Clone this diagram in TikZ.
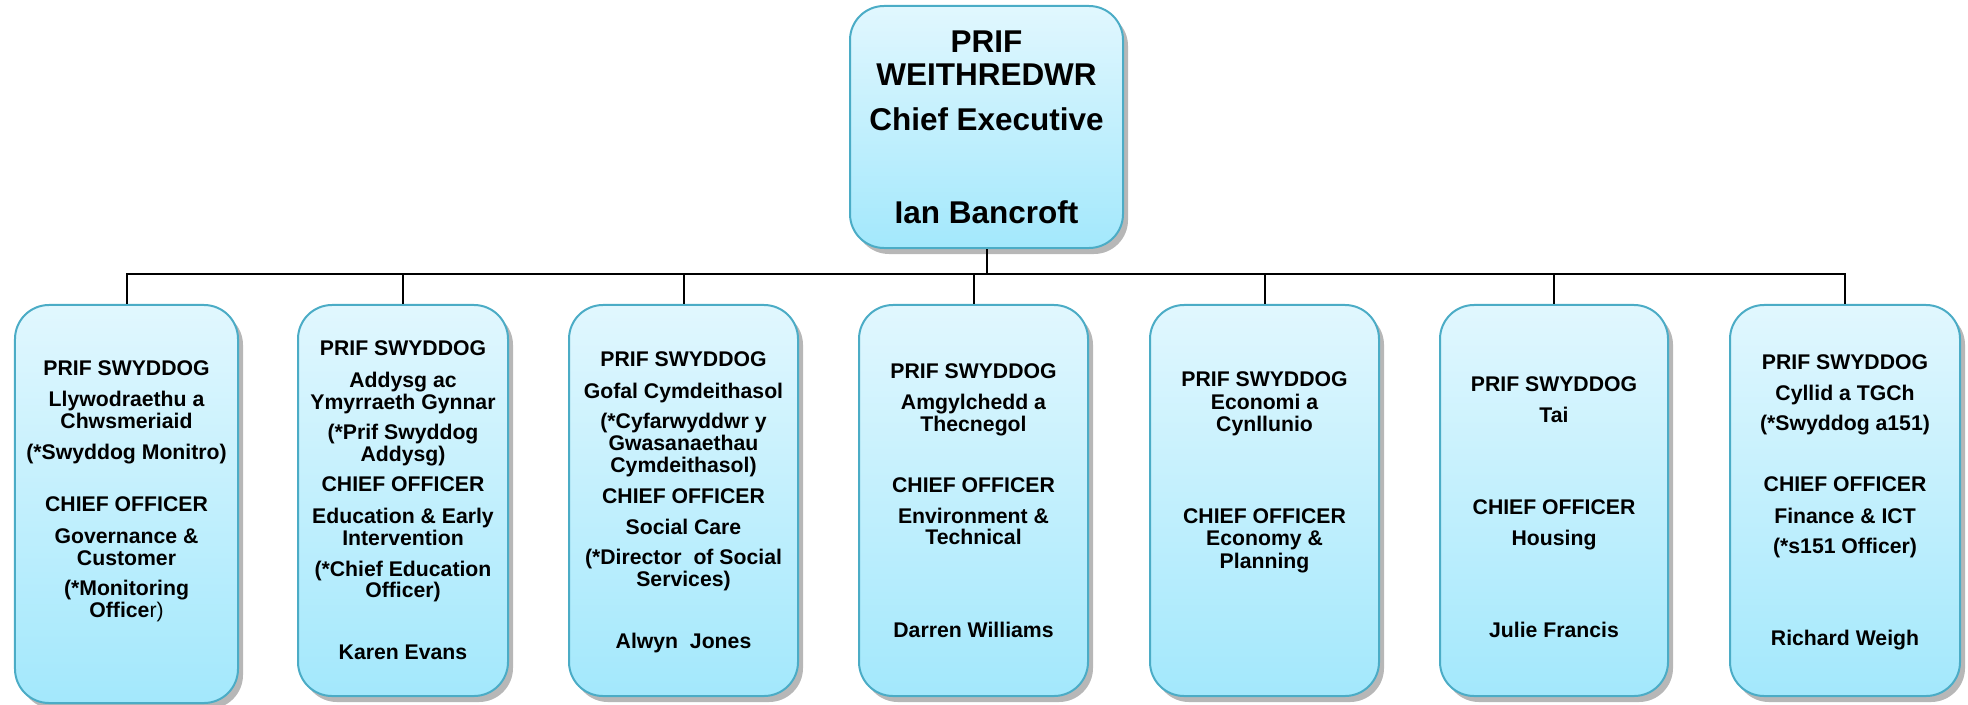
\documentclass[tikz,border=0pt]{standalone}
\usepackage{fontspec}
\setmainfont{Liberation Sans}
\usetikzlibrary{shadows}
\definecolor{boxline}{RGB}{75,172,198}
\definecolor{boxtop}{RGB}{225,247,254}
\definecolor{boxbot}{RGB}{163,232,252}
\begin{document}
\begin{tikzpicture}[x=0.5bp,y=-0.5bp,
    dept/.style={rectangle, rounded corners=17bp, draw=boxline, line width=1bp,
      top color=boxtop, bottom color=boxbot, inner sep=0pt,
      drop shadow={shadow xshift=2.5bp, shadow yshift=-3bp, opacity=0.4, fill=black!70}},
    txt/.style={anchor=base, inner sep=0pt, font=\fontsize{10.65}{11}\selectfont\bfseries},
    big/.style={anchor=base, inner sep=0pt, font=\fontsize{15.8}{17}\selectfont\bfseries},
    link/.style={draw=black, line width=1bp}]
    \useasboundingbox (0,0) rectangle (1968,704);
    %%Chief_executive
    \node[dept, minimum width=136.5bp, minimum height=121bp] (ceo) at (986.5,127) {};
    \foreach \y/\t [count=\k] in {42/PRIF, 75/WEITHREDWR, 120/Chief Executive, 212/Ian Bancroft}
      \node[big] (ceo-\k) at (986.5,\y+11) {\t};
    %%Chief_officers
    \node[dept, minimum width=111.5bp, minimum height=199bp] (b1) at (126.5,504) {};
    \foreach \y/\t [count=\k] in {368/PRIF SWYDDOG, 399/Llywodraethu a, 421/Chwsmeriaid,
      452/(*Swyddog Monitro), 504/CHIEF OFFICER, 536/Governance \&, 558/Customer,
      588/(*Monitoring, 610/{Office\mdseries r)}}
      \node[txt] (b1-\k) at (126.5,\y+7) {\t};
    \node[dept, minimum width=105bp, minimum height=195.5bp] (b2) at (403,500.5) {};
    \foreach \y/\t [count=\k] in {348/PRIF SWYDDOG, 380/Addysg ac, 402/Ymyrraeth Gynnar,
      432/(*Prif Swyddog, 454/Addysg), 484/CHIEF OFFICER, 516/Education \& Early,
      538/Intervention, 569/(*Chief Education, 590/Officer), 652/Karen Evans}
      \node[txt] (b2-\k) at (403,\y+7) {\t};
    \node[dept, minimum width=114.5bp, minimum height=195.5bp] (b3) at (683.5,500.5) {};
    \foreach \y/\t [count=\k] in {359/PRIF SWYDDOG, 391/Gofal Cymdeithasol, 421/(*Cyfarwyddwr y,
      443/Gwasanaethau, 465/Cymdeithasol), 496/CHIEF OFFICER, 527/Social Care,
      557/(*Director~ of Social, 579/Services), 641/Alwyn~ Jones}
      \node[txt] (b3-\k) at (683.5,\y+7) {\t};
    \node[dept, minimum width=114.5bp, minimum height=195.5bp] (b4) at (973.5,500.5) {};
    \foreach \y/\t [count=\k] in {371/PRIF SWYDDOG, 402/Amgylchedd a, 424/Thecnegol,
      485/CHIEF OFFICER, 516/Environment \&, 537/Technical, 630/Darren Williams}
      \node[txt] (b4-\k) at (973.5,\y+7) {\t};
    \node[dept, minimum width=114.5bp, minimum height=195.5bp] (b5) at (1264.5,500.5) {};
    \foreach \y/\t [count=\k] in {379/PRIF SWYDDOG, 402/Economi a, 424/Cynllunio,
      516/CHIEF OFFICER, 538/Economy \&, 561/Planning}
      \node[txt] (b5-\k) at (1264.5,\y+7) {\t};
    \node[dept, minimum width=114bp, minimum height=195.5bp] (b6) at (1554,500.5) {};
    \foreach \y/\t [count=\k] in {384/PRIF SWYDDOG, 415/Tai, 507/CHIEF OFFICER,
      538/Housing, 630/Julie Francis}
      \node[txt] (b6-\k) at (1554,\y+7) {\t};
    \node[dept, minimum width=115bp, minimum height=195.5bp] (b7) at (1845,500.5) {};
    \foreach \y/\t [count=\k] in {362/PRIF SWYDDOG, 393/Cyllid a TGCh, 423/(*Swyddog a151),
      484/CHIEF OFFICER, 516/Finance \& ICT, 546/(*s151 Officer), 638/Richard Weigh}
      \node[txt] (b7-\k) at (1845,\y+7) {\t};
    %%links
    \coordinate (bus) at (986.5,274);
    \draw[link] (ceo.south) -- (bus);
    \foreach \i in {1,...,7}
      \draw[link] (bus) -| (b\i.north);
\end{tikzpicture}
\end{document}
